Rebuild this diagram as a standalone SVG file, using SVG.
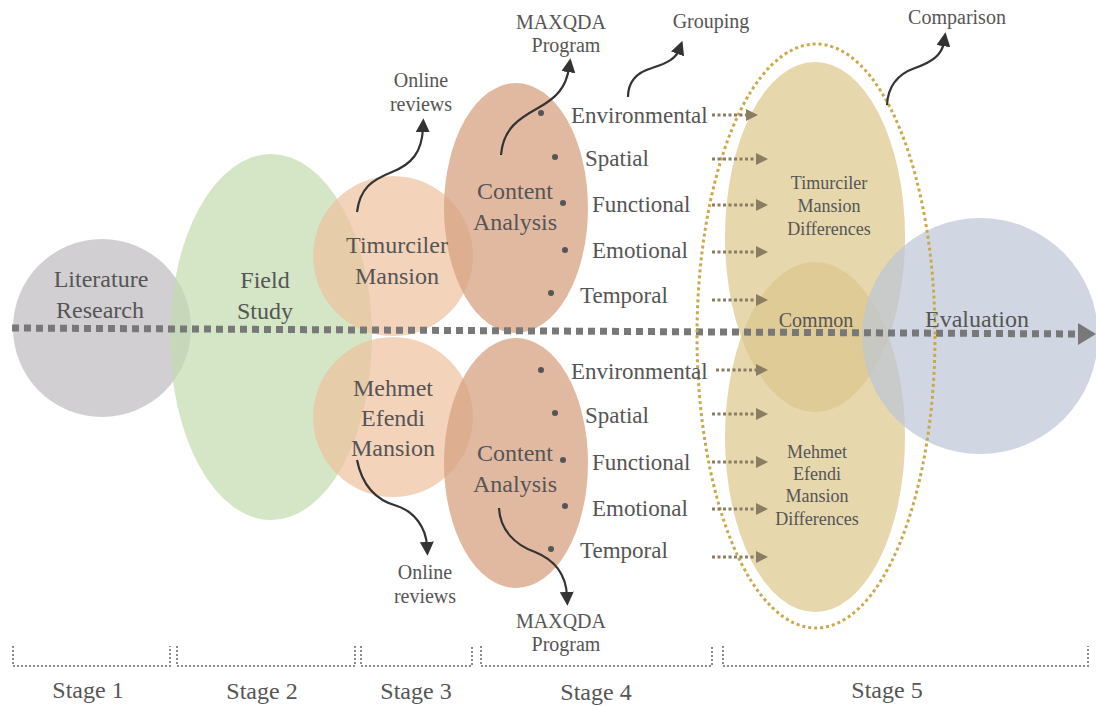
<svg xmlns="http://www.w3.org/2000/svg" width="1096" height="706" viewBox="0 0 1096 706">
<style>
text{font-family:"Liberation Serif","Times New Roman",serif;fill:#555;text-anchor:middle}
.lg{font-size:24px}
.md{font-size:20px}
.sm{font-size:18px}
.lst{font-size:23px;text-anchor:start}
.curve{fill:none;stroke:#333;stroke-width:2.2;marker-end:url(#ah)}
.dot{fill:none;stroke:#8a7d62;stroke-width:3;stroke-dasharray:3 2.5;marker-end:url(#dh)}
.brk{fill:none;stroke:#8c8c8c;stroke-width:2;stroke-dasharray:2 2}
.bul{fill:#555}
</style>
<defs>
<marker id="ah" viewBox="0 0 10 10" refX="3" refY="5" markerWidth="14" markerHeight="14" markerUnits="userSpaceOnUse" orient="auto"><path d="M0,0 L10,5 L0,10 z" fill="#333"/></marker>
<marker id="dh" viewBox="0 0 10 10" refX="0" refY="5" markerWidth="12" markerHeight="12" markerUnits="userSpaceOnUse" orient="auto"><path d="M0,0 L10,5 L0,10 z" fill="#8a7d62"/></marker>
</defs>

<g id="literature"><circle cx="102" cy="328" r="89" fill="#c9c7ca" opacity="0.85"/></g>
<g id="field"><ellipse cx="271" cy="337" rx="101" ry="183" fill="#c2dcae" opacity="0.7"/></g>
<g id="timurciler"><circle cx="393" cy="256" r="80" fill="#efc19e" opacity="0.7"/></g>
<g id="mehmet"><circle cx="393" cy="417" r="80" fill="#efc19e" opacity="0.7"/></g>
<g id="content1"><ellipse cx="516" cy="208" rx="72" ry="125" fill="#d7a282" opacity="0.75"/></g>
<g id="content2"><ellipse cx="516" cy="463" rx="72" ry="125" fill="#d7a282" opacity="0.75"/></g>
<g id="diff1"><ellipse cx="815" cy="237" rx="90" ry="175" fill="#dcc68a" opacity="0.7"/></g>
<g id="diff2"><ellipse cx="815" cy="437" rx="90" ry="175" fill="#dcc68a" opacity="0.7"/></g>
<g id="evaluation"><circle cx="980" cy="336" r="118" fill="#bcc6d6" opacity="0.7"/></g>

<g id="connectors">
<line x1="12" y1="328" x2="1080" y2="334" stroke="#787878" stroke-width="7" stroke-dasharray="7 5"/>
<polygon points="1078,323 1096,334 1078,345" fill="#787878"/>
<ellipse cx="816" cy="336" rx="119" ry="292" fill="none" stroke="#c9a94a" stroke-width="3" stroke-dasharray="3 3"/>
<path class="curve" d="M357,212 C360,188 372,180 392,172 C412,164 422,152 423,128"/>
<path class="curve" d="M501,155 C503,128 520,118 538,108 C556,98 566,88 569,68"/>
<path class="curve" d="M628,97 C628,80 638,72 652,68 C668,63 676,58 679,50"/>
<path class="curve" d="M887,105 C888,85 898,74 915,68 C932,62 942,55 944,42"/>
<path class="curve" d="M357,460 C362,485 375,500 397,506 C415,512 426,528 427,546"/>
<path class="curve" d="M499,508 C500,530 515,545 535,552 C555,560 566,575 567,596"/>
<path class="dot" d="M712,115 H746"/>
<path class="dot" d="M712,159 H756"/>
<path class="dot" d="M712,205 H756"/>
<path class="dot" d="M712,252 H756"/>
<path class="dot" d="M712,300 H756"/>
<path class="dot" d="M716,370 H756"/>
<path class="dot" d="M712,414 H756"/>
<path class="dot" d="M712,462 H756"/>
<path class="dot" d="M712,509 H756"/>
<path class="dot" d="M712,557 H756"/>
</g>

<g id="labels">
<text class="lg" x="101" y="287">Literature</text>
<text class="lg" x="100" y="318">Research</text>
<text class="lg" x="265" y="288">Field</text>
<text class="lg" x="265" y="319">Study</text>
<text class="lg" x="397" y="253">Timurciler</text>
<text class="lg" x="397" y="284">Mansion</text>
<text class="lg" x="393" y="396">Mehmet</text>
<text class="lg" x="393" y="426">Efendi</text>
<text class="lg" x="393" y="456">Mansion</text>
<text class="lg" x="515" y="199">Content</text>
<text class="lg" x="515" y="230">Analysis</text>
<text class="lg" x="515" y="461">Content</text>
<text class="lg" x="515" y="492">Analysis</text>
<text class="lg" x="977" y="327">Evaluation</text>
<text class="md" x="816" y="327">Common</text>
<text class="sm" x="829" y="189">Timurciler</text>
<text class="sm" x="829" y="212">Mansion</text>
<text class="sm" x="829" y="235">Differences</text>
<text class="sm" x="817" y="458">Mehmet</text>
<text class="sm" x="817" y="480">Efendi</text>
<text class="sm" x="817" y="502">Mansion</text>
<text class="sm" x="817" y="525">Differences</text>
<text class="md" x="421" y="87">Online</text>
<text class="md" x="421" y="111">reviews</text>
<text class="md" x="425" y="579">Online</text>
<text class="md" x="425" y="603">reviews</text>
<text class="md" x="561" y="29">MAXQDA</text>
<text class="md" x="566" y="52">Program</text>
<text class="md" x="561" y="628">MAXQDA</text>
<text class="md" x="566" y="651">Program</text>
<text class="md" x="711" y="28">Grouping</text>
<text class="md" x="957" y="24">Comparison</text>
</g>

<g id="list1">
<circle class="bul" cx="541" cy="113" r="3"/>
<circle class="bul" cx="555" cy="157" r="3"/>
<circle class="bul" cx="563" cy="203" r="3"/>
<circle class="bul" cx="565" cy="250" r="3"/>
<circle class="bul" cx="551" cy="293" r="3"/>
<text class="lst" x="571" y="123">Environmental</text>
<text class="lst" x="585" y="166">Spatial</text>
<text class="lst" x="592" y="212">Functional</text>
<text class="lst" x="592" y="258">Emotional</text>
<text class="lst" x="580" y="303">Temporal</text>
</g>
<g id="list2">
<circle class="bul" cx="541" cy="370" r="3"/>
<circle class="bul" cx="555" cy="413" r="3"/>
<circle class="bul" cx="563" cy="460" r="3"/>
<circle class="bul" cx="565" cy="506" r="3"/>
<circle class="bul" cx="551" cy="549" r="3"/>
<text class="lst" x="571" y="379">Environmental</text>
<text class="lst" x="585" y="423">Spatial</text>
<text class="lst" x="592" y="470">Functional</text>
<text class="lst" x="592" y="516">Emotional</text>
<text class="lst" x="580" y="558">Temporal</text>
</g>

<g id="stages">
<path class="brk" d="M13,646 V666 H170 V646"/>
<path class="brk" d="M177,646 V666 H355 V646"/>
<path class="brk" d="M361,646 V666 H472 V646"/>
<path class="brk" d="M481,646 V666 H712 V646"/>
<path class="brk" d="M723,646 V666 H1088 V646"/>
<text class="lg" x="88" y="698">Stage 1</text>
<text class="lg" x="262" y="699">Stage 2</text>
<text class="lg" x="416" y="699">Stage 3</text>
<text class="lg" x="596" y="700">Stage 4</text>
<text class="lg" x="887" y="698">Stage 5</text>
</g>
</svg>
